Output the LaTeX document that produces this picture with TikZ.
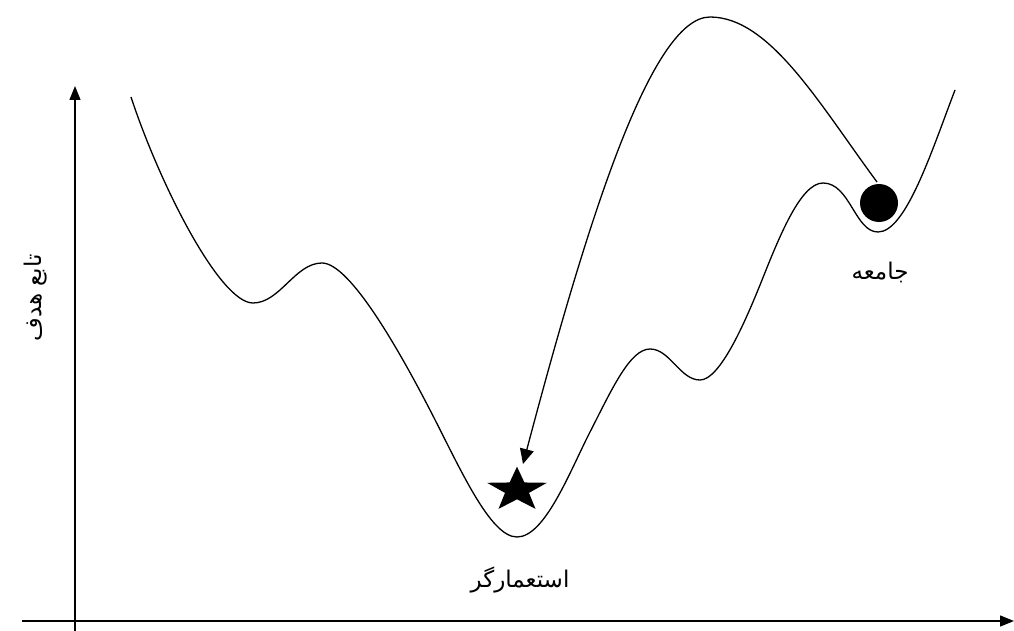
\documentclass[tikz,border=0pt]{standalone}
\usepackage{fontspec}
\usetikzlibrary{arrows.meta,shapes.geometric}
\newfontfamily\arabicfont[Script=Arabic]{DejaVu Sans}
\TeXXeTstate=1
\begin{document}
\begin{tikzpicture}[x=1pt,y=-1pt,
  curve/.style={line width=1.3pt},
  tip/.style={-{Triangle[length=15pt,width=14pt]}},
  axis/.style={line width=1.3pt,-{Triangle[length=14pt,width=11pt]}},
  lbl/.style={font=\arabicfont\fontsize{23}{27}\selectfont},
  marker/.style={fill=black,draw=none,inner sep=0pt}]
\useasboundingbox (0,0) rectangle (1014,631);
% axes
\coordinate (xs) at (22,621);
\coordinate (xe) at (1014,621);
\coordinate (ys) at (75,632);
\coordinate (ye) at (75,86);
\draw[axis] (xs) -- (xe);
\draw[axis] (ys) -- (ye);
\node[lbl,rotate=90] (ylab) at (36,298) {\beginR تابع هدف\endR};
% lower landscape
\coordinate (l0) at (131,97);
\coordinate (l1) at (253,303);
\coordinate (l2) at (322,263);
\coordinate (l3) at (430,410);
\coordinate (l4) at (517,537);
\coordinate (l5) at (590,432);
\coordinate (l6) at (650,349);
\coordinate (l7) at (700,380);
\coordinate (l8) at (760,285);
\coordinate (l9) at (823,183);
\coordinate (l10) at (878,232);
\coordinate (l11) at (955,90);
\draw[curve] (l0) .. controls (160,185) and (220,303) .. (l1)
  .. controls (280,303) and (295,263) .. (l2)
  .. controls (350,263) and (400,352) .. (l3)
  .. controls (460,468) and (490,537) .. (l4)
  .. controls (545,537) and (570,471) .. (l5)
  .. controls (612,389) and (630,349) .. (l6)
  .. controls (670,349) and (680,380) .. (l7)
  .. controls (720,380) and (745,322) .. (l8)
  .. controls (778,240) and (800,183) .. (l9)
  .. controls (850,183) and (855,232) .. (l10)
  .. controls (906,232) and (932,150) .. (l11);
% upper jump curve
\coordinate (us) at (877,182);
\coordinate (up) at (710,17);
\coordinate (ue) at (523,464);
\draw[curve,tip] (us) .. controls (820,105) and (770,17) .. (up)
  .. controls (650,17) and (585,230) .. (ue);
% markers
\begin{scope}[shift={(517,490)},yscale=0.74]
\node[marker,star,star points=5,star point ratio=2.5,minimum size=63pt,transform shape] (star) at (0,0) {};
\end{scope}
\node[marker,circle,minimum size=38pt] (ball) at (879,203) {};
% labels
\node[lbl] (imp) at (520,580) {\beginR استعمارگر\endR};
\node[lbl] (pop) at (880,272) {\beginR جامعه\endR};
\end{tikzpicture}
\end{document}
